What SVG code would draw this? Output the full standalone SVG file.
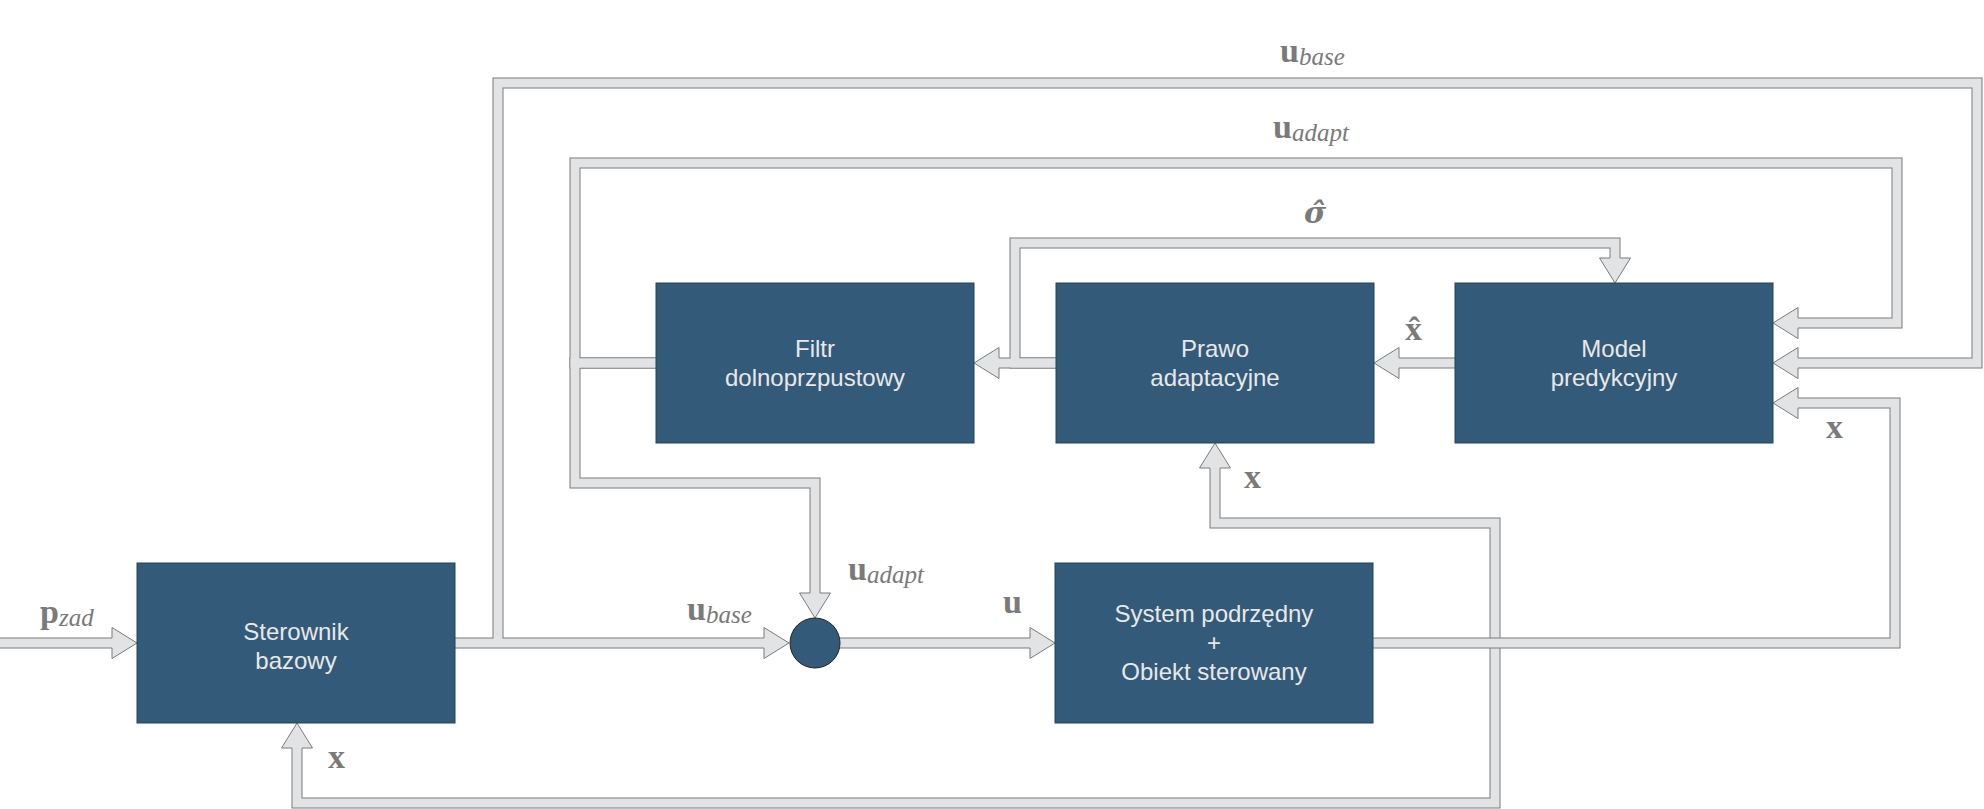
<svg xmlns="http://www.w3.org/2000/svg" width="1984" height="809" viewBox="0 0 1984 809">
<style>
.ol{fill:none;stroke:#7b7b7b;stroke-width:11;stroke-linejoin:miter;stroke-linecap:butt}
.fl{fill:none;stroke:#e2e3e5;stroke-width:9;stroke-linejoin:miter;stroke-linecap:butt}
.hd{fill:#e2e3e5;stroke:#7b7b7b;stroke-width:1;stroke-linejoin:miter}
.box{fill:#335a79;stroke:#23445d;stroke-width:1}
.bt{font-family:"Liberation Sans",Arial,sans-serif;font-size:24px;fill:#e8e8e8;text-anchor:middle}
.m{font-family:"Liberation Serif","Times New Roman",serif;fill:#7a7a7a}
.b{font-weight:bold;font-size:34px}
.s{font-style:italic;font-size:25px}
</style>
<rect width="1984" height="809" fill="#ffffff"/>
<g id="connectors">
  <g id="shafts-main">
    <path class="ol" d="M0,643 H112"/>
    <path class="ol" d="M455,643 H764"/>
    <path class="ol" d="M840,643 H1030"/>
    <path class="ol" d="M498,643 V83 H1977 V363 H1798"/>
    <path class="ol" d="M1455,363 H1399"/>
    <path class="ol" d="M1056,363 H999"/>
    <path class="ol" d="M1056,363 H1015 V243 H1615 V258"/>
    <path class="ol" d="M656,363 H575 V483 H815 V593"/>
    <path class="ol" d="M656,363 H575 V163 H1897 V323 H1798"/>
    <path class="ol" d="M1495,643 V523 H1215 V468"/>
    <path class="ol" d="M1495,643 V803 H297 V748"/>
    <path class="fl" d="M0,643 H112"/>
    <path class="fl" d="M455,643 H764"/>
    <path class="fl" d="M840,643 H1030"/>
    <path class="fl" d="M498,643 V83 H1977 V363 H1798"/>
    <path class="fl" d="M1455,363 H1399"/>
    <path class="fl" d="M1056,363 H999"/>
    <path class="fl" d="M1056,363 H1015 V243 H1615 V258"/>
    <path class="fl" d="M656,363 H575 V483 H815 V593"/>
    <path class="fl" d="M656,363 H575 V163 H1897 V323 H1798"/>
    <path class="fl" d="M1495,643 V523 H1215 V468"/>
    <path class="fl" d="M1495,643 V803 H297 V748"/>
  </g>
  <g id="shaft-system-model">
    <path class="ol" d="M1373,643 H1895 V403 H1798"/>
    <path class="fl" d="M1373,643 H1895 V403 H1798"/>
  </g>
  <g id="heads">
    <path class="hd" d="M112,638 V627.5 L137,643 L112,658.5 V648"/>
    <path class="hd" d="M764,638 V627.5 L789,643 L764,658.5 V648"/>
    <path class="hd" d="M1030,638 V627.5 L1055,643 L1030,658.5 V648"/>
    <path class="hd" d="M1798,358 V347.5 L1773,363 L1798,378.5 V368"/>
    <path class="hd" d="M1798,318 V307.5 L1773,323 L1798,338.5 V328"/>
    <path class="hd" d="M1798,398 V387.5 L1773,403 L1798,418.5 V408"/>
    <path class="hd" d="M1399,358 V347.5 L1374,363 L1399,378.5 V368"/>
    <path class="hd" d="M999,358 V347.5 L974,363 L999,378.5 V368"/>
    <path class="hd" d="M1610,258 H1599.5 L1615,283 L1630.5,258 H1620"/>
    <path class="hd" d="M810,593 H799.5 L815,618 L830.5,593 H820"/>
    <path class="hd" d="M1210,468 H1199.5 L1215,443 L1230.5,468 H1220"/>
    <path class="hd" d="M292,748 H281.5 L297,723 L312.5,748 H302"/>
  </g>
</g>
<g id="node-sterownik">
  <rect class="box" x="137" y="563" width="318" height="160"/>
  <text class="bt" x="296" y="640">Sterownik</text>
  <text class="bt" x="296" y="669">bazowy</text>
</g>
<g id="node-sumator">
  <circle cx="815" cy="643" r="25" fill="#335a79" stroke="#222222" stroke-width="1"/>
</g>
<g id="node-system">
  <rect class="box" x="1055" y="563" width="318" height="160"/>
  <text class="bt" x="1214" y="622">System podrzędny</text>
  <text class="bt" x="1214" y="651">+</text>
  <text class="bt" x="1214" y="680">Obiekt sterowany</text>
</g>
<g id="node-filtr">
  <rect class="box" x="656" y="283" width="318" height="160"/>
  <text class="bt" x="815" y="357">Filtr</text>
  <text class="bt" x="815" y="386">dolnoprzpustowy</text>
</g>
<g id="node-prawo">
  <rect class="box" x="1056" y="283" width="318" height="160"/>
  <text class="bt" x="1215" y="357">Prawo</text>
  <text class="bt" x="1215" y="386">adaptacyjne</text>
</g>
<g id="node-model">
  <rect class="box" x="1455" y="283" width="318" height="160"/>
  <text class="bt" x="1614" y="357">Model</text>
  <text class="bt" x="1614" y="386">predykcyjny</text>
</g>
<g id="labels">
  <text class="m" x="40" y="623"><tspan class="b">p</tspan><tspan class="s" dy="3">zad</tspan></text>
  <text class="m" x="1280" y="62"><tspan class="b">u</tspan><tspan class="s" dy="3">base</tspan></text>
  <text class="m" x="1273" y="138"><tspan class="b">u</tspan><tspan class="s" dy="3">adapt</tspan></text>
  <text class="m" x="687" y="620"><tspan class="b">u</tspan><tspan class="s" dy="3">base</tspan></text>
  <text class="m" x="848" y="580"><tspan class="b">u</tspan><tspan class="s" dy="3">adapt</tspan></text>
  <text class="m b" x="1003" y="613">u</text>
  <text x="1304" y="223" font-family="'DejaVu Serif',serif" font-weight="bold" font-style="italic" font-size="30" fill="#7a7a7a">σ̂</text>
  <text class="m b" x="1405" y="340">x̂</text>
  <text class="m b" x="328" y="768">x</text>
  <text class="m b" x="1244" y="488">x</text>
  <text class="m b" x="1826" y="438">x</text>
</g>
</svg>
